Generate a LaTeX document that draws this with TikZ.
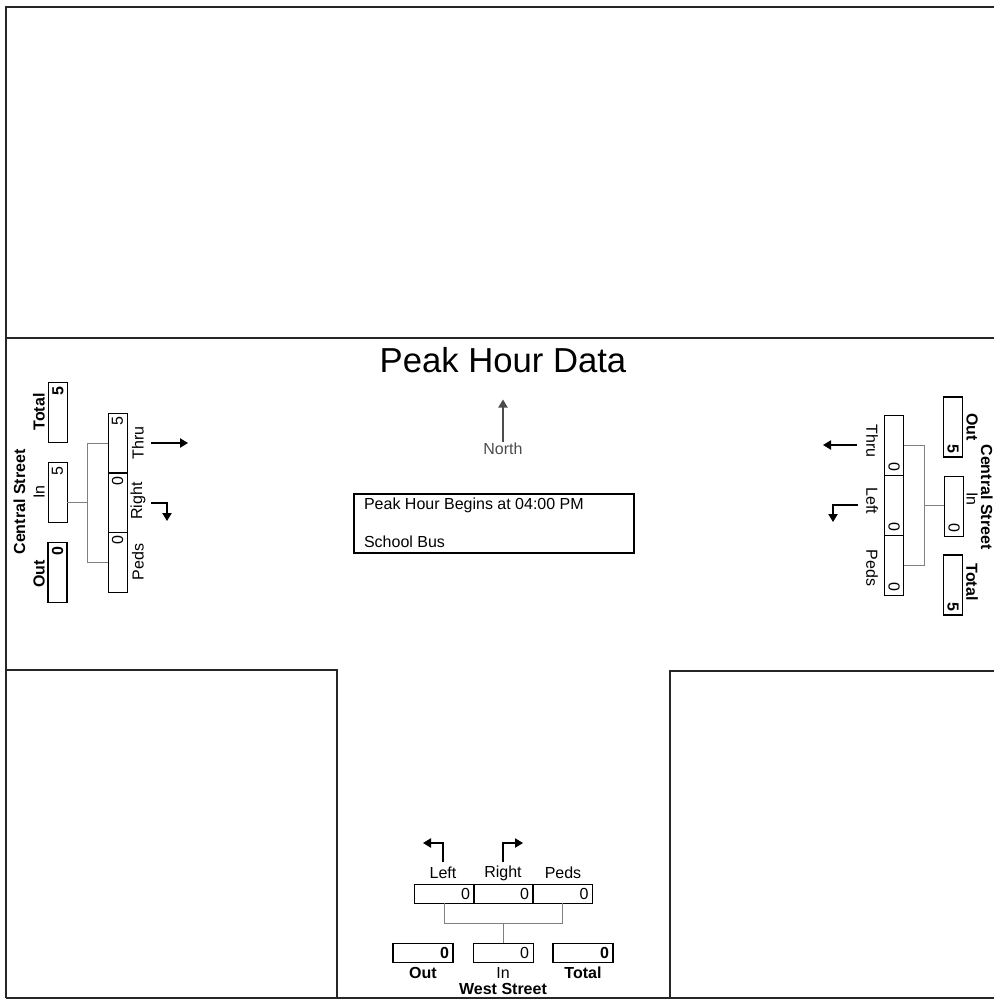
\documentclass[tikz,border=0pt]{standalone}
\usepackage{fontspec}
\setmainfont{Liberation Sans}
\usetikzlibrary{arrows.meta, positioning, calc}

\newcommand{\cntfont}{\fontsize{12}{14}\selectfont}

\begin{document}
\begin{tikzpicture}[
    x=0.75pt, y=-0.75pt,
    frame/.style={line width=1.5pt, black!85},
    cnt/.style={draw, line width=0.6pt, minimum height=14.25pt,
                text width=39pt, inner xsep=3pt, inner ysep=0pt,
                align=right, font=\cntfont},
    sum/.style={cnt, line width=1.2pt, font=\cntfont\bfseries},
    lbl/.style={font=\cntfont, inner sep=1pt},
    blbl/.style={font=\cntfont\bfseries, inner sep=1pt},
    link/.style={draw=gray, line width=0.6pt},
    turn/.style={-{Triangle[width=7pt,length=6pt]}, line width=0.8pt}
  ]
  \useasboundingbox (0,0) rectangle (994,1002);

  % title, north arrow and note
  \node[font=\fontsize{26}{30}\selectfont] (title) at (503,360) {Peak Hour Data};
  \node[lbl, text=black!70] (north) at (503,449) {North};
  \draw[turn, black!70] (north.north) -- ++(0,-42);
  \node[draw, line width=0.8pt, minimum width=210pt,
        minimum height=44.25pt] (info) at (494,523.5) {};
  \node[lbl, anchor=west] (begins) at ($(info.north west)+(9,12)$)
    {Peak Hour Begins at 04:00 PM};
  \node[lbl, anchor=west] (vehicle) at ($(info.south west)+(9,-12)$)
    {School Bus};

  % Central Street, west side
  \node[blbl, rotate=90, anchor=base] (lSt) at (25,502) {Central Street};
  \node[blbl, rotate=90] (lTotL) at (39,412) {Total};
  \node[lbl, rotate=90] (lInL) at (39,492) {In};
  \node[blbl, rotate=90] (lOutL) at (39,574) {Out};
  \node[sum, rotate=90] (lTot) at (58,412.5) {5};
  \node[cnt, rotate=90] (lIn) at (57.5,492.5) {5};
  \node[sum, rotate=90] (lOut) at (57.5,572.5) {0};
  \node[cnt, rotate=90] (lT) at (117.5,443) {5};
  \node[cnt, rotate=90] (lR) at (117.5,502.5) {0};
  \node[cnt, rotate=90] (lP) at (117.5,562) {0};
  \node[lbl, rotate=90] (lThru) at (138,443) {Thru};
  \node[lbl, rotate=90] (lRight) at (138,501) {Right};
  \node[lbl, rotate=90] (lPeds) at (138,562) {Peds};
  \draw[link] (lT.north) -- ++(-20,0) |- (lP.north);
  \coordinate (lMid) at ($(lT.north)!0.5!(lP.north)+(-20,0)$);
  \draw[link] (lMid) -- (lMid -| lIn.south);
  \coordinate (lThruS) at (151,443);
  \draw[turn] (lThruS) -- ++(37,0);
  \coordinate (lRightS) at (151,503);
  \draw[turn] (lRightS) -- ++(16,0) -- ++(0,18);

  % Central Street, east side
  \node[blbl, rotate=-90, anchor=base] (rSt) at (981,497) {Central Street};
  \node[blbl, rotate=-90] (rOutL) at (972,427) {Out};
  \node[lbl, rotate=-90] (rInL) at (972,499) {In};
  \node[blbl, rotate=-90] (rTotL) at (972,582) {Total};
  \node[sum, rotate=-90] (rOut) at (953,427) {5};
  \node[cnt, rotate=-90] (rIn) at (954,506) {0};
  \node[sum, rotate=-90] (rTot) at (953,585) {5};
  \node[cnt, rotate=-90] (rT) at (894,445) {0};
  \node[cnt, rotate=-90] (rL) at (894,505) {0};
  \node[cnt, rotate=-90] (rP) at (894,565) {0};
  \node[lbl, rotate=-90] (rThru) at (872,441) {Thru};
  \node[lbl, rotate=-90] (rLeft) at (872,501) {Left};
  \node[lbl, rotate=-90] (rPeds) at (872,568) {Peds};
  \draw[link] (rT.north) -- ++(20,0) |- (rP.north);
  \coordinate (rMid) at ($(rT.north)!0.5!(rP.north)+(20,0)$);
  \draw[link] (rMid) -- (rMid -| rIn.south);
  \coordinate (rThruS) at (857,445);
  \draw[turn] (rThruS) -- ++(-34,0);
  \coordinate (rLeftS) at (858,505);
  \draw[turn] (rLeftS) -- ++(-25,0) -- ++(0,17);

  % West Street
  \node[cnt] (wL) at (444,893.5) {0};
  \node[cnt] (wR) at (503,893.5) {0};
  \node[cnt] (wP) at (562.5,893.5) {0};
  \node[lbl] (wLeft) at (443,873) {Left};
  \node[lbl] (wRight) at (503,873) {Right};
  \node[lbl] (wPeds) at (563,873) {Peds};
  \coordinate (wLeftS) at (443,862);
  \draw[turn] (wLeftS) -- ++(0,-19) -- ++(-20,0);
  \coordinate (wRightS) at (503,862);
  \draw[turn] (wRightS) -- ++(0,-19) -- ++(20,0);
  \node[sum] (wOut) at (423,953) {0};
  \node[cnt] (wIn) at (503,953) {0};
  \node[sum] (wTot) at (583,953) {0};
  \node[blbl] (wOutL) at (423,973) {Out};
  \node[lbl] (wInL) at (503,973) {In};
  \node[blbl] (wTotL) at (583,973) {Total};
  \node[blbl] (wSt) at (503,989) {West Street};
  \draw[link] (wL.south) -- ++(0,20) -| (wP.south);
  \coordinate (wMid) at ($(wL.south)!0.5!(wP.south)+(0,20)$);
  \draw[link] (wMid) -- (wMid |- wIn.north);

  % street frame
  \draw[frame] (6,998) -- (6,7) -- (994,7);
  \draw[frame] (6,338) -- (994,338);
  \draw[frame] (6,670) -- (337,670) -- (337,998);
  \draw[frame] (994,671) -- (670,671) -- (670,998);
  \draw[frame] (6,998) -- (994,998);
\end{tikzpicture}
\end{document}
